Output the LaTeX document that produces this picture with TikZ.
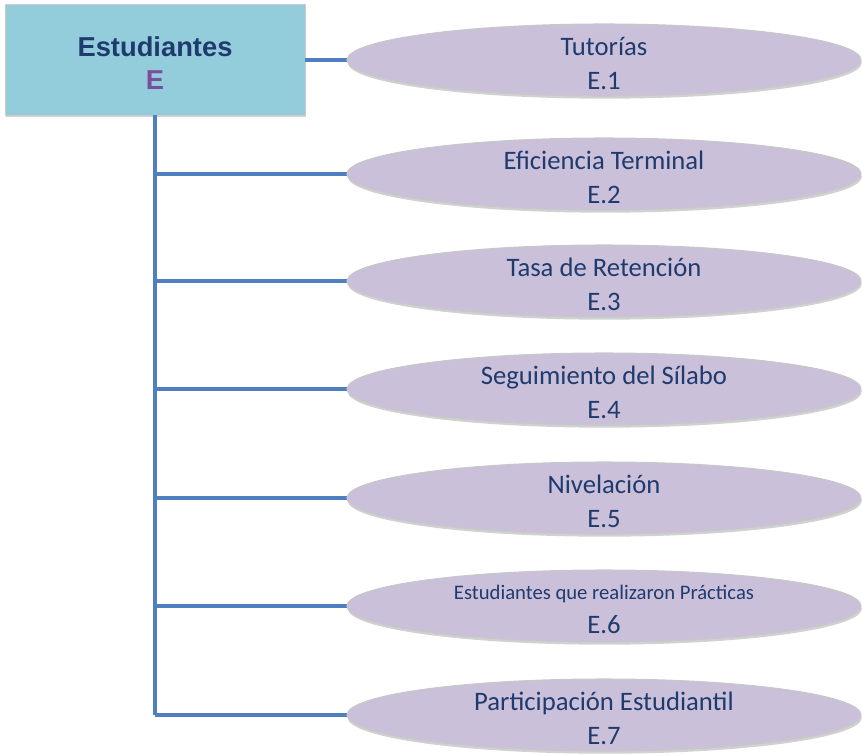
\documentclass[tikz,border=0pt]{standalone}
\usepackage{fontspec}
\setmainfont{Carlito}
\newfontfamily\arialfont{Liberation Sans}
\usetikzlibrary{shapes.geometric,shadows}
\definecolor{boxfill}{HTML}{93CDDC}
\definecolor{ellfill}{HTML}{CBC0DA}
\definecolor{ellborder}{HTML}{C8C8C8}
\definecolor{txtblue}{HTML}{1F3B6E}
\definecolor{epurple}{HTML}{7A4E9C}
\definecolor{linkblue}{HTML}{4F7FBF}
\tikzset{
  rootbox/.style={draw=black!20, line width=0.6pt, fill=boxfill, minimum width=300*0.75pt, minimum height=111*0.75pt, inner sep=0pt,
    drop shadow={shadow xshift=1pt, shadow yshift=-1.2pt, fill=black!35, opacity=0.5}},
  leaf/.style={ellipse, draw=ellborder, line width=0.8pt, fill=ellfill, minimum width=514*0.75pt, minimum height=72*0.75pt, inner sep=0pt,
    text=txtblue, align=center, font=\fontsize{20}{25}\selectfont,
    drop shadow={shadow xshift=0.6pt, shadow yshift=-2pt, fill=black!40, opacity=0.45}},
  leaftext/.style={text=txtblue, align=center, font=\fontsize{20}{25}\selectfont},
  link/.style={draw=linkblue, line width=2.3pt}
}
\begin{document}
\begin{tikzpicture}[x=0.75pt,y=-0.75pt]
\useasboundingbox (0,0) rectangle (862,754);
\node[rootbox] (root) at (155,60) {};
\node[align=center, font=\arialfont\bfseries\fontsize{20.5}{25}\selectfont, text=txtblue] (roottxt) at (155,63) {Estudiantes\\\textcolor{epurple}{E}};
\coordinate (trunktop) at (155,115);
\coordinate (b2) at (155,174);
\coordinate (b3) at (155,281);
\coordinate (b4) at (155,389);
\coordinate (b5) at (155,498);
\coordinate (b6) at (155,606);
\coordinate (b7) at (155,715);
\coordinate (r1) at (305,60);
\draw[link] (trunktop) -- (b7);
\draw[link] (r1) -- (350,60);
\foreach \i in {2,...,7} { \draw[link] (b\i) -- ++(195,0); }
\node[leaf] (e1) at (604,60) {};
\node[leaf] (e2) at (604,174) {};
\node[leaf] (e3) at (604,281) {};
\node[leaf] (e4) at (604,389) {};
\node[leaf] (e5) at (604,498) {};
\node[leaf] (e6) at (604,606) {};
\node[leaf] (e7) at (604,715) {};
\node[leaftext] (t1) at ([yshift=-2.5pt]e1.center) {Tutorías\\E.1};
\node[leaftext] (t2) at ([yshift=-2.5pt]e2.center) {Eficiencia Terminal\\E.2};
\node[leaftext] (t3) at ([yshift=-2.5pt]e3.center) {Tasa de Retención\\E.3};
\node[leaftext] (t4) at ([yshift=-2.5pt]e4.center) {Seguimiento del Sílabo\\E.4};
\node[leaftext] (t5) at ([yshift=-2.5pt]e5.center) {Nivelación\\E.5};
\node[leaftext] (t6) at ([yshift=-2.5pt]e6.center) {{\fontsize{15.5}{18}\selectfont Estudiantes que realizaron Prácticas}\\E.6};
\node[leaftext] (t7) at ([yshift=-2.5pt]e7.center) {Participación Estudiantil\\E.7};
\end{tikzpicture}
\end{document}
